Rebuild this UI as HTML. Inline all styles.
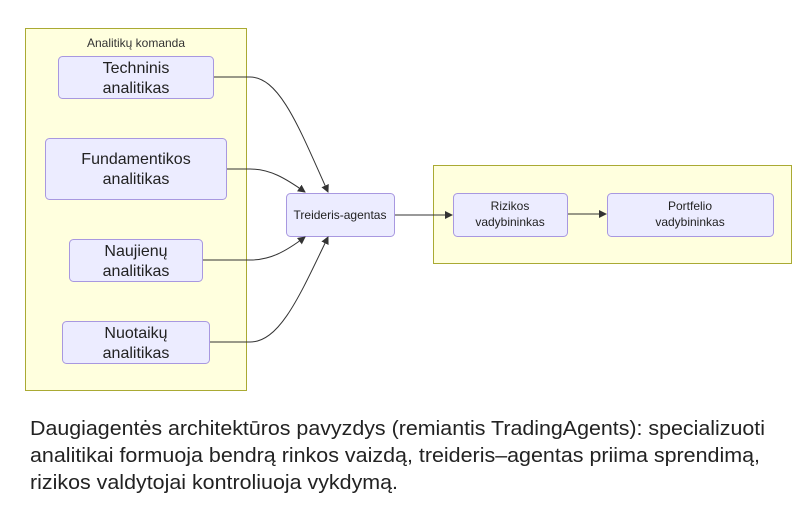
<!DOCTYPE html>
<html><head><meta charset="utf-8"><style>
body{margin:0;width:811px;height:519px;background:#fff;font-family:"Liberation Sans","DejaVu Sans",sans-serif;overflow:hidden}
</style></head><body>
<svg width="811" height="519" style="position:absolute;left:0;top:0" font-family="Liberation Sans, DejaVu Sans, sans-serif">
<defs><marker id="a" markerWidth="8" markerHeight="8" refX="7" refY="4" orient="auto" markerUnits="userSpaceOnUse"><path d="M0,0L8,4L0,8z" fill="#333"/></marker></defs>
<rect x="25.5" y="28.5" width="221" height="362" fill="#ffffde" stroke="#aaaa33"/>
<rect x="433.5" y="165.5" width="358" height="98" fill="#ffffde" stroke="#aaaa33"/>
<text x="136" y="47" font-size="12" text-anchor="middle" fill="#333">Analitikų komanda</text>
<g fill="#ececff" stroke="#a898e0">
<rect x="58.5" y="56.5" width="155" height="42" rx="4"/>
<rect x="45.5" y="138.5" width="181" height="61" rx="4"/>
<rect x="69.5" y="239.5" width="133" height="42" rx="4"/>
<rect x="62.5" y="321.5" width="147" height="42" rx="4"/>
<rect x="286.5" y="193.5" width="108" height="43" rx="4"/>
<rect x="453.5" y="193.5" width="114" height="43" rx="4"/>
<rect x="607.5" y="193.5" width="166" height="43" rx="4"/>
</g>
<g fill="none" stroke="#333" stroke-width="1" marker-end="url(#a)">
<path d="M214,77 L250,77 C280,77 300,130 328,192"/>
<path d="M227,169 L250,169 C270,169 285,178 305,192"/>
<path d="M203,260 L250,260 C270,260 285,252 305,237"/>
<path d="M210,342 L250,342 C280,342 300,295 328,237"/>
<path d="M395,215 L452,215"/>
<path d="M568,214 L606,214"/>
</g>
<g font-size="16" text-anchor="middle" fill="#222">
<text x="136" y="73">Techninis</text><text x="136" y="93">analitikas</text>
<text x="136" y="164">Fundamentikos</text><text x="136" y="184">analitikas</text>
<text x="136" y="256">Naujienų</text><text x="136" y="276">analitikas</text>
<text x="136" y="338">Nuotaikų</text><text x="136" y="358">analitikas</text>
</g>
<g font-size="12" text-anchor="middle" fill="#222">
<text x="340" y="219">Treideris-agentas</text>
<text x="510" y="210">Rizikos</text><text x="510" y="226">vadybininkas</text>
<text x="690" y="210">Portfelio</text><text x="690" y="226">vadybininkas</text>
</g>
<g font-size="20" fill="#222">
<text x="30" y="435" textLength="735" lengthAdjust="spacingAndGlyphs">Daugiagentės architektūros pavyzdys (remiantis TradingAgents): specializuoti</text>
<text x="30" y="462" textLength="730" lengthAdjust="spacingAndGlyphs">analitikai formuoja bendrą rinkos vaizdą, treideris–agentas priima sprendimą,</text>
<text x="30" y="489" textLength="368" lengthAdjust="spacingAndGlyphs">rizikos valdytojai kontroliuoja vykdymą.</text>
</g>
</svg>
</body></html>
